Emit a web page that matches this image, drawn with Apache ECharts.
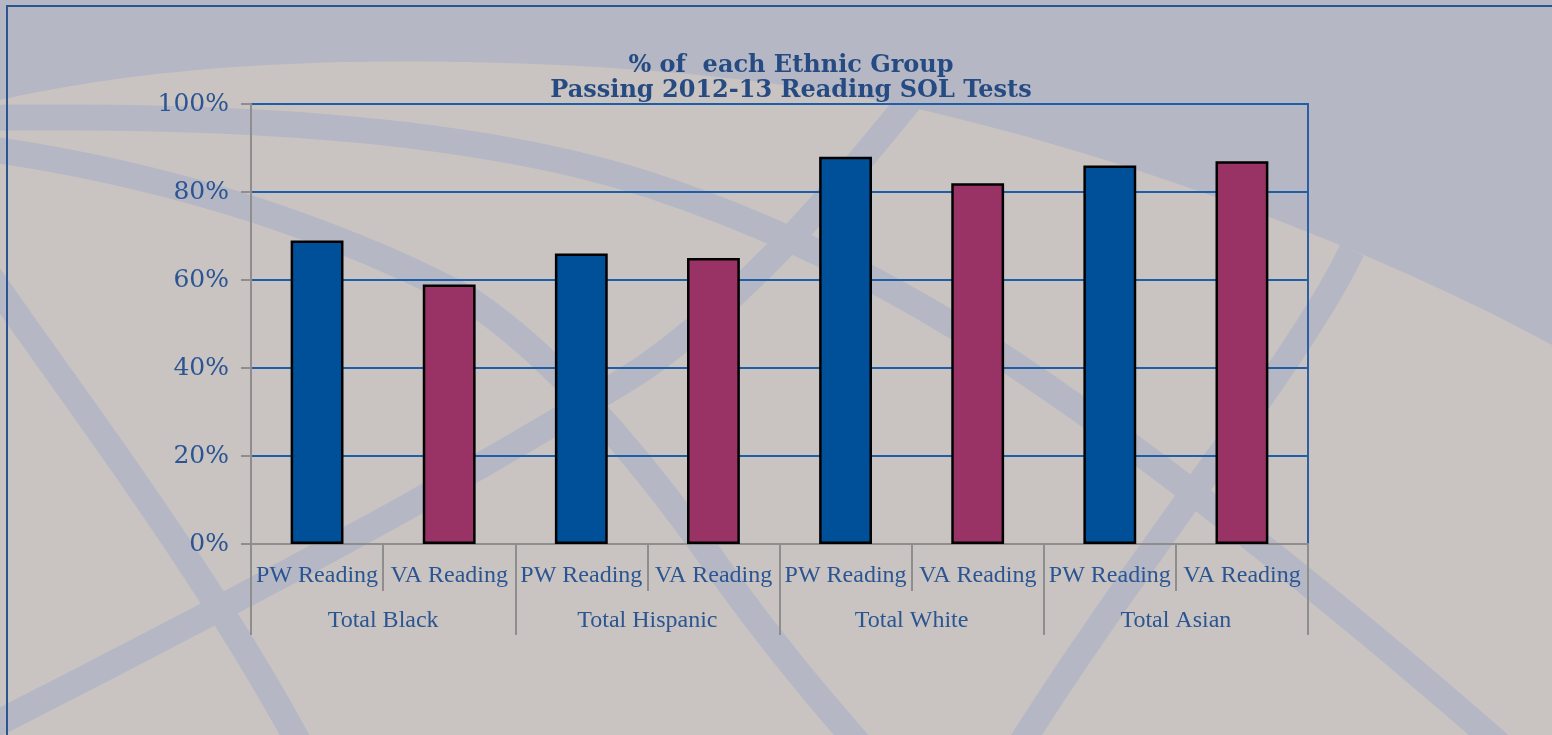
<!DOCTYPE html>
<html>
<head>
<meta charset="utf-8">
<script src="https://cdn.jsdelivr.net/npm/echarts@6/dist/echarts.min.js"></script>
<style>
html,body{margin:0;padding:0;background:#c9c4c1;}
#chart{width:1552px;height:735px;}
</style>
</head>
<body>
<div id="chart"></div>
<script>
// ---- data ----
const groups = ['Total Black', 'Total Hispanic', 'Total White', 'Total Asian'];
const tests = ['PW Reading', 'VA Reading'];
const pwValues = [69, 66, 88, 86];
const vaValues = [59, 65, 82, 87];
const yTicks = [0, 20, 40, 60, 80, 100];
const titleLines = ['% of  each Ethnic Group', 'Passing 2012-13 Reading SOL Tests'];

// ---- derived ----
const cats = [];
groups.forEach(() => tests.forEach(t => cats.push(t)));
const pwData = [], vaData = [];
groups.forEach((g, i) => {
  pwData.push(pwValues[i], '-');
  vaData.push('-', vaValues[i]);
});

// ---- decorative background helpers ----
function bez(start, segs) {
  const pts = [start.slice()];
  let p0 = start;
  segs.forEach(s => {
    for (let k = 1; k <= 24; k++) {
      const t = k / 24, u = 1 - t;
      pts.push([
        u*u*u*p0[0] + 3*u*u*t*s[0] + 3*u*t*t*s[2] + t*t*t*s[4],
        u*u*u*p0[1] + 3*u*u*t*s[1] + 3*u*t*t*s[3] + t*t*t*s[5]
      ]);
    }
    p0 = [s[4], s[5]];
  });
  return pts;
}

const LAV = '#b5b7c5';
const BEIGE = '#c9c4c1';
const labelColor = '#2b5592';
const gray = '#8e8e8e';

const topRegion = [[0,0],[1552,0]].concat(
  bez([1552,345], [[1400,262,1150,160,900,105],[700,62,420,55,250,66],[150,72,60,86,0,100]])
);
const stripes = [
  bez([-20,118], [[250,114,480,130,650,185],[800,235,920,300,1030,375],[1200,490,1380,640,1500,745]]),
  bez([-20,148], [[150,170,330,225,470,300],[560,360,650,470,720,570],[770,640,820,700,860,745]]),
  bez([-20,262], [[60,380,200,560,300,745]]),
  bez([-20,732], [[200,620,450,490,644,368],[740,300,830,200,910,100]]),
  bez([1352,250], [[1300,360,1150,540,1020,745]])
];

const graphics = [
  { type: 'polygon', z: -100, silent: true, shape: { points: topRegion }, style: { fill: LAV } }
];
stripes.forEach(p => graphics.push({
  type: 'polyline', z: -99, silent: true,
  shape: { points: p },
  style: { fill: null, stroke: LAV, lineWidth: 26, lineJoin: 'round' }
}));
graphics.push({ type: 'rect', z: -90, silent: true,
  shape: { x: 7, y: 6, width: 1600, height: 800 },
  style: { fill: null, stroke: '#2a5590', lineWidth: 2 } });

const chart = echarts.init(document.getElementById('chart'));
chart.setOption({
  backgroundColor: BEIGE,
  animation: false,
  graphic: graphics,
  title: {
    text: titleLines.join('\n'),
    left: 786,
    top: 48,
    textAlign: 'center',
    textStyle: {
      fontFamily: 'DejaVu Serif',
      fontWeight: 'bold',
      fontSize: 24,
      lineHeight: 25,
      color: '#264b82'
    }
  },
  grid: {
    left: 251, right: 244, top: 104, bottom: 191,
    show: true,
    backgroundColor: 'transparent',
    borderColor: '#2d5ea4',
    borderWidth: 2
  },
  xAxis: [
    {
      type: 'category',
      data: cats,
      position: 'bottom',
      axisLine: { show: true, lineStyle: { color: gray, width: 2 } },
      axisTick: { show: true, interval: 0, length: 47, lineStyle: { color: gray, width: 2 } },
      axisLabel: { interval: 0, margin: 20, color: labelColor, fontFamily: 'Liberation Serif', fontSize: 24 },
      splitLine: { show: false }
    },
    {
      type: 'category',
      data: groups,
      position: 'bottom',
      axisLine: { show: false },
      axisTick: { show: true, interval: 0, length: 91, lineStyle: { color: gray, width: 2 } },
      axisLabel: { interval: 0, margin: 65, color: labelColor, fontFamily: 'Liberation Serif', fontSize: 24 },
      splitLine: { show: false }
    }
  ],
  yAxis: {
    type: 'value',
    min: yTicks[0],
    max: yTicks[yTicks.length - 1],
    interval: yTicks[1] - yTicks[0],
    axisLine: { show: true, lineStyle: { color: gray, width: 2 } },
    axisTick: { show: true, length: 10, lineStyle: { color: gray, width: 2 } },
    axisLabel: { margin: 22, color: labelColor, fontFamily: 'DejaVu Serif', fontSize: 25, formatter: '{value}%' },
    splitLine: { show: true, lineStyle: { color: '#1f5fa8', width: 2 } }
  },
  series: [
    {
      name: 'PW Reading',
      type: 'bar',
      xAxisIndex: 0,
      data: pwData,
      barWidth: '40%',
      barGap: '-100%',
      itemStyle: { color: '#004f99', borderColor: '#000', borderWidth: 2.5 }
    },
    {
      name: 'VA Reading',
      type: 'bar',
      xAxisIndex: 0,
      data: vaData,
      barWidth: '40%',
      barGap: '-100%',
      itemStyle: { color: '#993366', borderColor: '#000', borderWidth: 2.5 }
    }
  ]
});
</script>
</body>
</html>
